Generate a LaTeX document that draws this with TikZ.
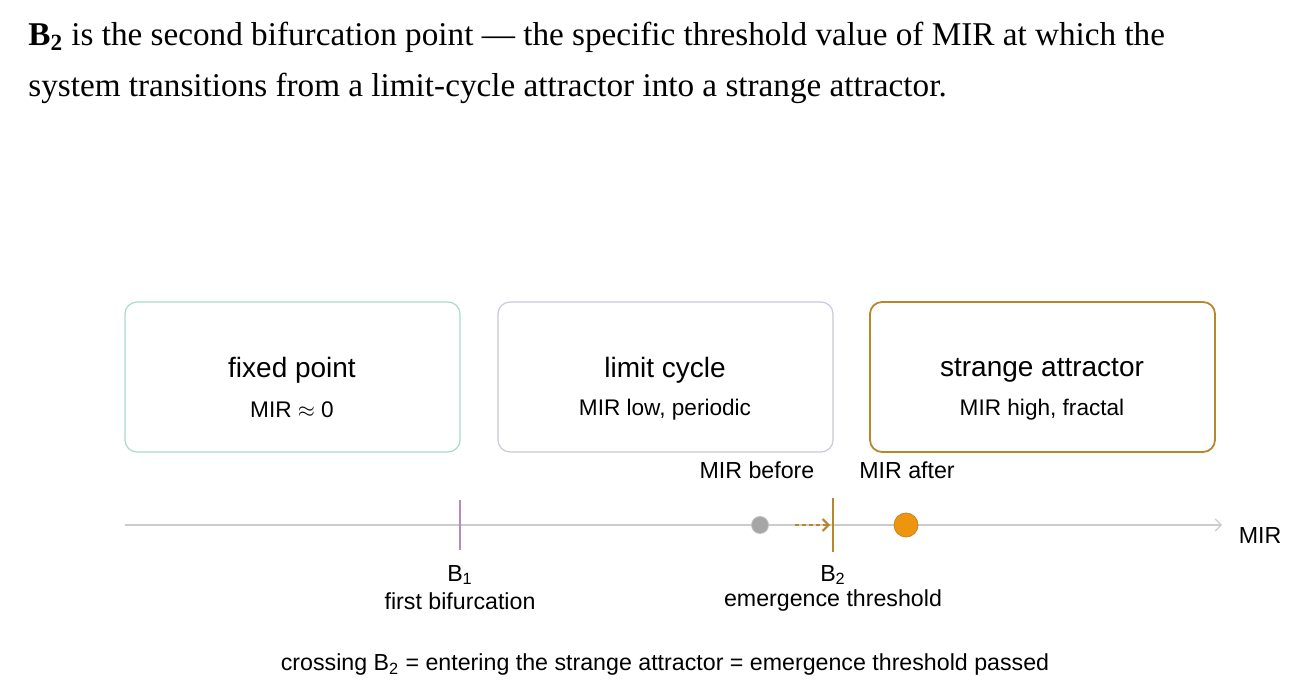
\documentclass[tikz,border=0pt]{standalone}
\usepackage{fontspec}
\setmainfont{Liberation Sans}
\newfontfamily\serif{Liberation Serif}
\usetikzlibrary{arrows.meta}
\definecolor{gold}{HTML}{B8862B}
\definecolor{teal1}{HTML}{A8D8CC}
\definecolor{lav}{HTML}{C8C8DC}
\definecolor{orng}{HTML}{EE9510}
\tikzset{
 box/.style={draw, rounded corners=6pt, line width=0.6pt},
 ttl/.style={font=\fontsize{14}{16}\selectfont},
 sub/.style={font=\fontsize{11.3}{13}\selectfont},
 lbl/.style={font=\fontsize{11.6}{13}\selectfont, inner sep=0},
}
\begin{document}
\begin{tikzpicture}[x=0.5pt,y=-0.5pt]
\useasboundingbox (0,0) rectangle (1300,688);
\node[anchor=west, inner sep=0, font=\serif\fontsize{16.6}{19}\selectfont] (h1) at (28,37) {\textbf{B\textsubscript{2}} is the second bifurcation point — the specific threshold value of MIR at which the};
\node[anchor=west, inner sep=0, font=\serif\fontsize{16.6}{19}\selectfont] (h2) at (28,88) {system transitions from a limit-cycle attractor into a strange attractor.};
\draw[box, teal1] (125,302) rectangle (460,452);
\draw[box, lav] (498,302) rectangle (833,452);
\draw[box, gold, line width=0.9pt] (870,302) rectangle (1215,452);
\node[ttl] (t1) at (292,370) {fixed point};
\node[sub] (s1) at (292,410) {MIR $\approx$ 0};
\node[ttl] (t2) at (665,370) {limit cycle};
\node[sub] (s2) at (665,410) {MIR low, periodic};
\node[ttl] (t3) at (1042,370) {strange attractor};
\node[sub] (s3) at (1042,410) {MIR high, fractal};
\coordinate (a0) at (125,525);
\coordinate (a1) at (1222,525);
\draw[gray!40, line width=0.6pt, -{Straight Barb[length=3pt]}] (a0) -- (a1);
\node[lbl] (mir) at (1260,536) {MIR};
\draw[lav!70!violet, line width=0.8pt] (460,500) -- (460,550);
\draw[gold, line width=0.9pt] (833,498) -- (833,552);
\node[circle, fill=gray!70, draw=gray!50, minimum size=17pt*0.5, inner sep=0] (g) at (760,525) {};
\node[circle, fill=orng, draw=gold!80!orange, minimum size=24pt*0.5, inner sep=0] (o) at (906,525) {};
\coordinate (d0) at (795,525);
\coordinate (d1) at (830,525);
\draw[gold, line width=1pt, dash pattern=on 2pt off 1.5pt, -{Straight Barb[length=3pt]}] (d0) -- (d1);
\node[lbl] (mb) at (757,470) {MIR before};
\node[lbl] (ma) at (907,470) {MIR after};
\node[lbl] (b1) at (460,575) {B\textsubscript{1}};
\node[lbl] (b1t) at (460,601) {first bifurcation};
\node[lbl] (b2) at (833,575) {B\textsubscript{2}};
\node[lbl] (b2t) at (833,601) {emergence threshold};
\node[lbl] (bot) at (665,665) {crossing B\textsubscript{2} = entering the strange attractor = emergence threshold passed};
\end{tikzpicture}
\end{document}
